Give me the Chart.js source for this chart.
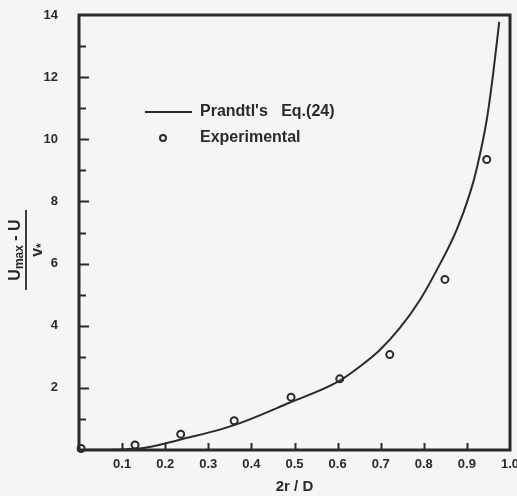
<!DOCTYPE html>
<html><head><meta charset="utf-8">
<script src="https://cdn.jsdelivr.net/npm/chart.js@4/dist/chart.umd.min.js"></script>
<style>html,body{margin:0;padding:0;background:#f5f5f3;}canvas{display:block;}</style>
</head><body>
<canvas id="c" width="517" height="496"></canvas>
<script>
// ---- data ----
const curveX = [0, 0.14, 0.236, 0.36, 0.488, 0.601, 0.651, 0.698, 0.744, 0.791, 0.83, 0.876, 0.907, 0.922, 0.946, 0.961, 0.975];
const curveY = [0, 0.05, 0.34, 0.80, 1.52, 2.20, 2.68, 3.22, 3.92, 4.83, 5.79, 7.08, 8.26, 9.01, 10.62, 12.12, 13.78];
const expX = [0.005, 0.13, 0.236, 0.36, 0.492, 0.605, 0.721, 0.849, 0.946];
const expY = [0.05, 0.16, 0.51, 0.94, 1.70, 2.29, 3.07, 5.49, 9.35];
const xTickLabels = ['0.1','0.2','0.3','0.4','0.5','0.6','0.7','0.8','0.9','1.0'];
const yTickLabels = ['2','4','6','8','10','12','14'];
const seriesNames = ["Prandtl's   Eq.(24)", 'Experimental'];
const xTitle = '2r / D';
const yTitleNum = ['U', 'max', ' - U'];
const yTitleDen = ['v', '*'];

const INK = '#2a2a2a';
const FONT = "'Liberation Sans', Arial, sans-serif";

const decor = {
  id: 'decor',
  beforeDraw(chart) {
    const ctx = chart.ctx;
    ctx.save();
    ctx.fillStyle = '#f5f5f3';
    ctx.fillRect(0, 0, chart.width, chart.height);
    ctx.restore();
  },
  afterDatasetsDraw(chart) {
    const ctx = chart.ctx;
    const a = chart.chartArea;
    const xs = chart.scales.x, ys = chart.scales.y;
    ctx.save();
    ctx.strokeStyle = INK;
    ctx.fillStyle = INK;
    // frame
    ctx.lineWidth = 3;
    ctx.strokeRect(a.left, a.top, a.right - a.left, a.bottom - a.top);
    // inward y ticks (major at even, minor at odd)
    ctx.lineWidth = 2;
    for (let v = 1; v < 14; v++) {
      const y = Math.round(ys.getPixelForValue(v)) + 0.5;
      const len = (v % 2 === 0) ? 10 : 7;
      ctx.beginPath(); ctx.moveTo(a.left, y); ctx.lineTo(a.left + len, y); ctx.stroke();
    }
    // inward x ticks
    xTickLabels.slice(0, -1).forEach(s => {
      const x = Math.round(xs.getPixelForValue(parseFloat(s))) + 0.5;
      ctx.beginPath(); ctx.moveTo(x, a.bottom); ctx.lineTo(x, a.bottom - 7); ctx.stroke();
    });
    // x title
    ctx.font = 'bold 15px ' + FONT;
    ctx.textAlign = 'center'; ctx.textBaseline = 'middle';
    ctx.fillText(xTitle, (a.left + a.right) / 2, 487);
    // y title as a fraction, rotated
    ctx.translate(27, 250);
    ctx.rotate(-Math.PI / 2);
    const big = 'bold 16px ' + FONT, small = 'bold 12px ' + FONT;
    ctx.font = big; const w0 = ctx.measureText(yTitleNum[0]).width;
    ctx.font = small; const w1 = ctx.measureText(yTitleNum[1]).width;
    ctx.font = big; const w2 = ctx.measureText(yTitleNum[2]).width;
    let x0 = -(w0 + w1 + w2) / 2;
    ctx.textAlign = 'left'; ctx.textBaseline = 'alphabetic';
    ctx.font = big; ctx.fillText(yTitleNum[0], x0, -7);
    ctx.font = small; ctx.fillText(yTitleNum[1], x0 + w0, -4);
    ctx.font = big; ctx.fillText(yTitleNum[2], x0 + w0 + w1, -7);
    ctx.lineWidth = 1.8;
    ctx.beginPath(); ctx.moveTo(-40, -1); ctx.lineTo(40, -1); ctx.stroke();
    ctx.font = big; const wv = ctx.measureText(yTitleDen[0]).width;
    ctx.font = small; const ws = ctx.measureText(yTitleDen[1]).width;
    const xv = -(wv + ws) / 2;
    ctx.font = big; ctx.fillText(yTitleDen[0], xv, 15);
    ctx.font = small; ctx.fillText(yTitleDen[1], xv + wv, 18);
    ctx.restore();

    // legend
    ctx.save();
    ctx.strokeStyle = INK; ctx.fillStyle = INK;
    ctx.lineWidth = 2;
    ctx.beginPath(); ctx.moveTo(145, 112); ctx.lineTo(192, 112); ctx.stroke();
    ctx.beginPath(); ctx.arc(163, 138, 3, 0, Math.PI * 2); ctx.stroke();
    ctx.font = 'bold 16px ' + FONT;
    ctx.textAlign = 'left'; ctx.textBaseline = 'middle';
    ctx.fillText(chart.data.datasets[0].label, 200, 112);
    ctx.fillText(chart.data.datasets[1].label, 200, 138);
    ctx.restore();
  }
};

new Chart(document.getElementById('c'), {
  data: {
    datasets: [
      {
        type: 'line',
        label: seriesNames[0],
        data: curveX.map((x, i) => ({ x: x, y: curveY[i] })),
        borderColor: INK,
        borderWidth: 2,
        pointRadius: 0,
        fill: false,
        cubicInterpolationMode: 'monotone'
      },
      {
        type: 'scatter',
        label: seriesNames[1],
        data: expX.map((x, i) => ({ x: x, y: expY[i] })),
        borderColor: INK,
        backgroundColor: 'rgba(0,0,0,0)',
        pointRadius: 3.5,
        pointBorderWidth: 2,
        clip: 6
      }
    ]
  },
  options: {
    responsive: false,
    animation: false,
    devicePixelRatio: 1,
    layout: { padding: { top: 15, right: 7, left: 0, bottom: 0 } },
    plugins: { legend: { display: false }, tooltip: { enabled: false } },
    scales: {
      x: {
        type: 'linear', min: 0, max: 1,
        grid: { display: false, drawTicks: false },
        border: { display: false },
        afterBuildTicks: s => { s.ticks = xTickLabels.map(t => ({ value: parseFloat(t) })); },
        ticks: {
          padding: 7, color: INK, maxRotation: 0, autoSkip: false,
          font: { family: FONT, size: 13, weight: 'bold' },
          callback: v => xTickLabels.find(t => Math.abs(parseFloat(t) - v) < 1e-6) || ''
        },
        afterFit: s => { s.height = 46; s.paddingLeft = 0; s.paddingRight = 0; }
      },
      y: {
        type: 'linear', min: 0, max: 14,
        grid: { display: false, drawTicks: false },
        border: { display: false },
        afterBuildTicks: s => { s.ticks = yTickLabels.map(t => ({ value: parseFloat(t) })); },
        ticks: {
          padding: 21, color: INK, autoSkip: false,
          font: { family: FONT, size: 13, weight: 'bold' },
          callback: v => yTickLabels.find(t => Math.abs(parseFloat(t) - v) < 1e-6) || ''
        },
        afterFit: s => { s.width = 79; s.paddingTop = 0; s.paddingBottom = 0; }
      }
    }
  },
  plugins: [decor]
});
</script>
</body></html>
